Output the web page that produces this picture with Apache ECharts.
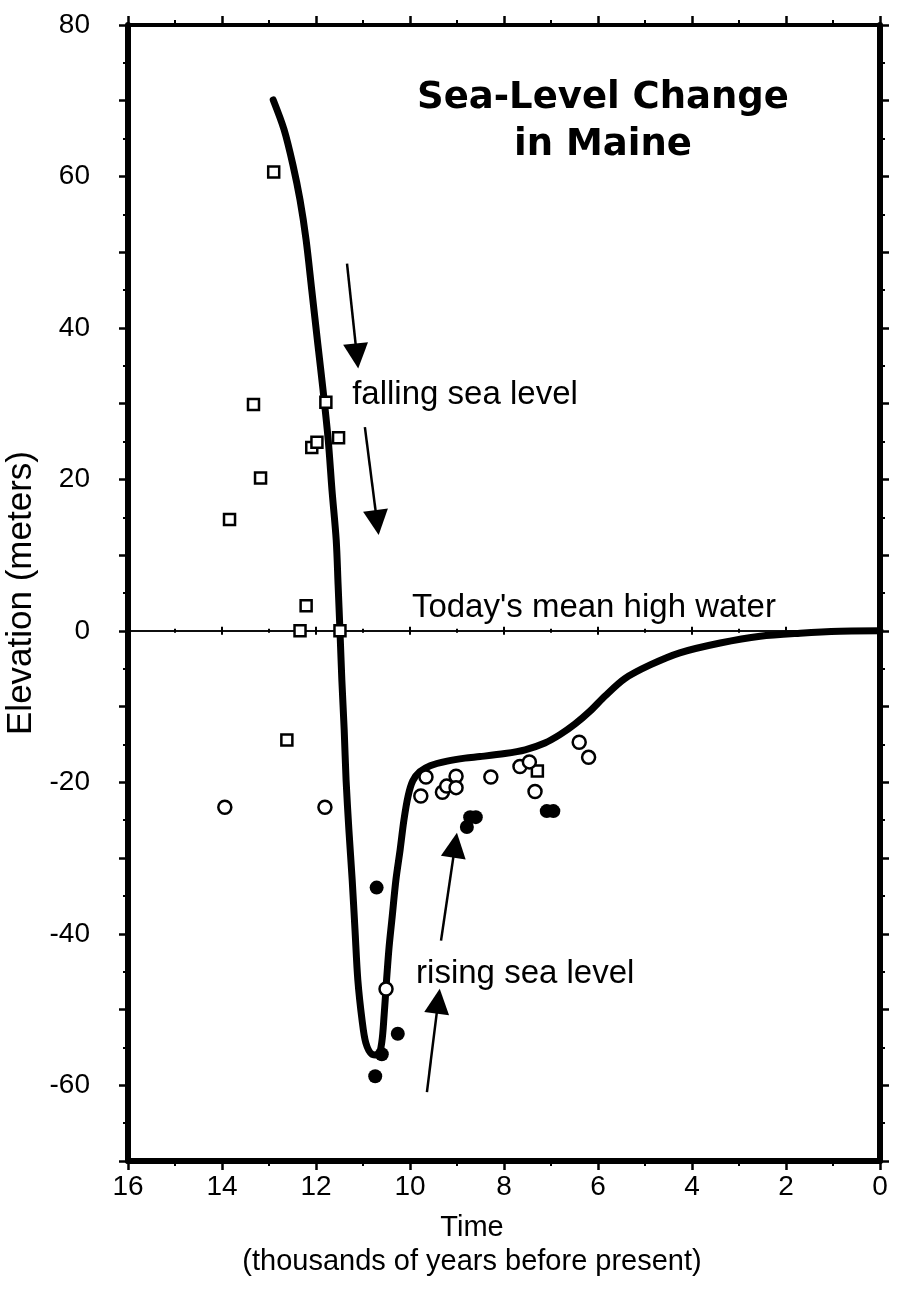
<!DOCTYPE html>
<html lang="en">
<head>
<meta charset="UTF-8">
<title>Sea-Level Change in Maine</title>
<script src="https://cdn.jsdelivr.net/npm/echarts@6/dist/echarts.min.js"></script>
<style>
    html, body { margin: 0; padding: 0; background: #fff; }
    #main { width: 900px; height: 1291px; }
</style>
</head>
<body>
<div id="main"></div>
<script>
// [thousands of years BP, elevation m]
var curve = [
    [12.91, 70.1], [12.68, 66.2], [12.49, 61.5], [12.34, 56.9], [12.21, 51.6],
    [12.09, 45.0], [11.96, 37.8], [11.85, 31.8], [11.74, 25.2], [11.66, 18.6],
    [11.57, 12.0], [11.53, 6.1], [11.49, 0], [11.45, -6.5], [11.40, -13.1],
    [11.36, -19.7], [11.30, -26.3], [11.23, -32.9], [11.17, -39.5], [11.11, -46.1],
    [11.02, -51.4], [10.94, -54.4], [10.81, -55.9], [10.68, -56.0], [10.60, -54.3],
    [10.55, -50.7], [10.51, -47.1], [10.45, -42.1], [10.38, -37.8], [10.30, -32.9],
    [10.21, -28.9], [10.13, -25.0], [10.04, -21.8], [9.94, -19.8], [9.79, -18.6],
    [9.57, -17.8], [9.21, -17.2], [8.83, -16.8], [8.51, -16.6], [7.98, -16.2],
    [7.55, -15.7], [7.13, -14.8], [6.81, -13.7], [6.49, -12.3], [6.17, -10.6],
    [5.85, -8.6], [5.43, -6.3], [4.89, -4.5], [4.26, -2.9], [3.40, -1.6],
    [2.55, -0.7], [1.70, -0.3], [0.85, -0.05], [0, 0]
];
var squares = [
    [12.9, 60.6], [13.33, 29.9], [11.79, 30.2], [11.52, 25.5], [12.09, 24.2],
    [11.98, 24.9], [13.18, 20.2], [13.84, 14.7], [12.21, 3.3], [12.34, 0],
    [11.49, 0], [12.62, -14.4], [7.29, -18.5]
];
var openCircles = [
    [13.94, -23.3], [11.81, -23.3], [10.51, -47.3], [9.66, -19.3], [9.77, -21.8],
    [9.31, -21.3], [9.22, -20.5], [9.02, -19.2], [9.02, -20.7], [8.28, -19.3],
    [7.66, -17.9], [7.46, -17.3], [7.34, -21.2], [6.40, -14.7], [6.20, -16.7]
];
var filledCircles = [
    [10.71, -33.9], [10.26, -53.2], [10.60, -55.9], [10.74, -58.8],
    [8.72, -24.6], [8.60, -24.6], [8.79, -25.9], [7.09, -23.8], [6.95, -23.8]
];
var arrows = [
    [[11.34, 48.5], [11.13, 36.3]],
    [[10.96, 26.9], [10.70, 14.3]],
    [[9.34, -40.9], [9.04, -28.3]],
    [[9.64, -60.9], [9.40, -48.9]]
];
var notes = [
    { text: 'falling sea level', at: [11.23, 31.1] },
    { text: "Today's mean high water", at: [9.96, 3.0] },
    { text: 'rising sea level', at: [9.87, -45.3] }
];

var FONT = '"Liberation Sans", Arial, sans-serif';

function frameX(pos, width, labels) {
    return {
        type: 'value', position: pos, min: 0, max: 16, interval: 2, inverse: true,
        axisLine: { onZero: false, lineStyle: { color: '#000', width: width } },
        axisTick: { length: 9, lineStyle: { color: '#000', width: 2.5 } },
        minorTick: { show: true, splitNumber: 2, length: 5, lineStyle: { color: '#000', width: 2 } },
        axisLabel: { show: labels, color: '#000', fontSize: 28, fontFamily: FONT, margin: 12 },
        splitLine: { show: false }
    };
}
function zeroX(inside) {
    return {
        type: 'value', position: 'bottom', min: 0, max: 16, interval: 2, inverse: true,
        axisLine: { onZero: true, onZeroAxisIndex: 0, lineStyle: { color: '#000', width: 1.5 } },
        axisTick: { inside: inside, length: 4, lineStyle: { color: '#000', width: 2 } },
        minorTick: { show: true, splitNumber: 2, length: 2, lineStyle: { color: '#000', width: 2 } },
        axisLabel: { show: false },
        splitLine: { show: false }
    };
}
function frameY(pos, labels) {
    var ax = {
        type: 'value', position: pos, min: -70, max: 80, interval: 10,
        axisLine: { onZero: false, lineStyle: { color: '#000', width: 6 } },
        axisTick: { length: 9, lineStyle: { color: '#000', width: 2.5 } },
        minorTick: { show: true, splitNumber: 2, length: 5, lineStyle: { color: '#000', width: 2 } },
        axisLabel: {
            show: labels, color: '#000', fontSize: 28, fontFamily: FONT, margin: 38,
            formatter: function (v) { return v % 20 === 0 ? String(v) : ''; }
        },
        splitLine: { show: false }
    };
    if (labels) {
        ax.name = 'Elevation (meters)';
        ax.nameLocation = 'middle';
        ax.nameGap = 88;
        ax.nameTextStyle = { color: '#000', fontSize: 35, fontFamily: FONT };
    }
    return ax;
}

var chart = echarts.init(document.getElementById('main'));
chart.setOption({
    animation: false,
    backgroundColor: '#fff',
    grid: { left: 128, right: 20, top: 25, bottom: 130, outerBoundsMode: 'none', containLabel: false },
    xAxis: [frameX('bottom', 6, true), frameX('top', 4, false), zeroX(false), zeroX(true)],
    yAxis: [frameY('left', true), frameY('right', false)],
    series: [
        {
            type: 'line', data: curve, showSymbol: false, smooth: 0.3,
            lineStyle: { color: '#000', width: 7, join: 'round', cap: 'round' }, z: 3
        },
        {
            type: 'lines', coordinateSystem: 'cartesian2d', z: 4,
            symbol: ['none', 'triangle'], symbolSize: [11, 25],
            lineStyle: { color: '#000', width: 2.5, opacity: 1 },
            data: arrows.map(function (a) { return { coords: a }; })
        },
        {
            type: 'scatter', data: squares, symbol: 'rect', symbolSize: 11, z: 5,
            itemStyle: { color: '#fff', borderColor: '#000', borderWidth: 2.5, opacity: 1 }
        },
        {
            type: 'scatter', data: openCircles, symbol: 'circle', symbolSize: 13, z: 5,
            itemStyle: { color: '#fff', borderColor: '#000', borderWidth: 2.5, opacity: 1 }
        },
        {
            type: 'scatter', data: filledCircles, symbol: 'circle', symbolSize: 14, z: 5,
            itemStyle: { color: '#000', opacity: 1 }
        }
    ]
});

// annotations placed through the chart's own scales
var gfx = notes.map(function (n) {
    var p = chart.convertToPixel({ seriesIndex: 0 }, n.at);
    return {
        type: 'text', x: p[0], y: p[1], z: 10,
        style: { text: n.text, fill: '#000', font: '33px ' + FONT, textAlign: 'left', textVerticalAlign: 'middle' }
    };
});
gfx.push(
    { type: 'text', x: 603, y: 98, z: 10,
      style: { text: 'Sea-Level Change', fill: '#000', font: 'bold 37px "DejaVu Sans", sans-serif', textAlign: 'center', textVerticalAlign: 'middle' } },
    { type: 'text', x: 603, y: 145, z: 10,
      style: { text: 'in Maine', fill: '#000', font: 'bold 37px "DejaVu Sans", sans-serif', textAlign: 'center', textVerticalAlign: 'middle' } },
    { type: 'text', x: 472, y: 1228, z: 10,
      style: { text: 'Time', fill: '#000', font: '29px ' + FONT, textAlign: 'center', textVerticalAlign: 'middle' } },
    { type: 'text', x: 472, y: 1262, z: 10,
      style: { text: '(thousands of years before present)', fill: '#000', font: '29px ' + FONT, textAlign: 'center', textVerticalAlign: 'middle' } }
);
chart.setOption({ graphic: gfx });
</script>
</body>
</html>
